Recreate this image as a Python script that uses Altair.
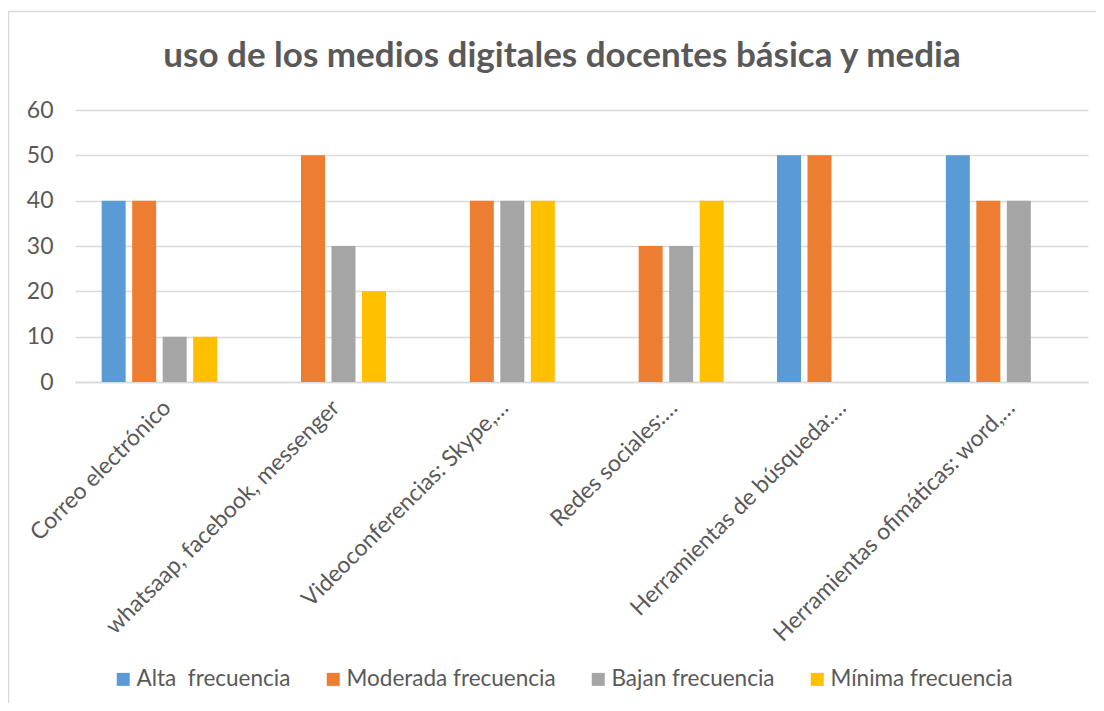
import altair as alt
import pandas as pd

title_text = ["uso de los medios digitales docentes básica y media"]
categories = [
    "Correo electrónico",
    "whatsaap, facebook, messenger",
    "Videoconferencias: Skype,…",
    "Redes sociales:…",
    "Herramientas de búsqueda:…",
    "Herramientas ofimáticas: word,…",
]
series = ["Alta\u00a0 frecuencia", "Moderada frecuencia", "Bajan frecuencia", "Mínima frecuencia"]
alta = [40, 0, 0, 0, 50, 50]
moderada = [40, 50, 40, 30, 50, 40]
bajan = [10, 30, 40, 30, 0, 40]
minima = [10, 20, 40, 40, 0, 0]
colors = ["#5B9BD5", "#ED7D31", "#A5A5A5", "#FFC000"]

rows = []
for s, vals in zip(series, [alta, moderada, bajan, minima]):
    for c, v in zip(categories, vals):
        rows.append({"cat": c, "serie": s, "valor": v})
df = pd.DataFrame(rows)

FONT = "Lato"
TXT = "#595959"
GRID = "#D9D9D9"

bars = alt.Chart(df).mark_bar().encode(
    x=alt.X("cat:N", sort=categories, title=None,
            scale=alt.Scale(paddingInner=0.316, paddingOuter=0.158),
            axis=alt.Axis(labelAngle=-45, labelFontSize=23, labelFont=FONT, labelColor=TXT,
                          labelLimit=500, labelPadding=14, ticks=False, domain=True,
                          domainColor=GRID, domainWidth=1.5, grid=False)),
    xOffset=alt.XOffset("serie:N", sort=series,
                        scale=alt.Scale(paddingInner=0.213, paddingOuter=0)),
    y=alt.Y("valor:Q", title=None,
            scale=alt.Scale(domain=[0, 60]),
            axis=alt.Axis(values=[0, 10, 20, 30, 40, 50, 60], labelFontSize=23, labelFont=FONT,
                          labelColor=TXT, ticks=False, domain=False, grid=True,
                          gridColor=GRID, gridWidth=1.5, labelPadding=22)),
    color=alt.Color("serie:N", sort=series, title=None,
                    scale=alt.Scale(domain=series, range=colors),
                    legend=alt.Legend(orient="none", direction="horizontal", legendX=37, legendY=558,
                                      symbolType="square", symbolSize=169, symbolStrokeWidth=0,
                                      labelFontSize=22.5, labelFont=FONT, labelColor=TXT,
                                      labelOffset=2, columnPadding=31, padding=0, columns=4,
                                      labelLimit=500)),
)

border = alt.Chart(pd.DataFrame({"a": [0]})).mark_rect(fill=None, stroke=GRID, strokeWidth=1.5).encode(
    x=alt.value(-66.5), x2=alt.value(1050), y=alt.value(-98.5), y2=alt.value(700)
)

title = alt.Chart(pd.DataFrame({"t": title_text})).mark_text(
    font=FONT, fontSize=35, fontWeight="bold", color=TXT, align="center", baseline="alphabetic"
).encode(text="t:N", x=alt.value(487), y=alt.value(-43))

chart = alt.layer(border, bars, title).properties(
    width=1013, height=272,
    autosize=alt.AutoSizeParams(type="none"),
    padding={"left": 67, "top": 102, "right": 8, "bottom": 321},
).configure_view(stroke=None)

chart.save("out.html", embed_options={"renderer": "svg", "actions": False})
